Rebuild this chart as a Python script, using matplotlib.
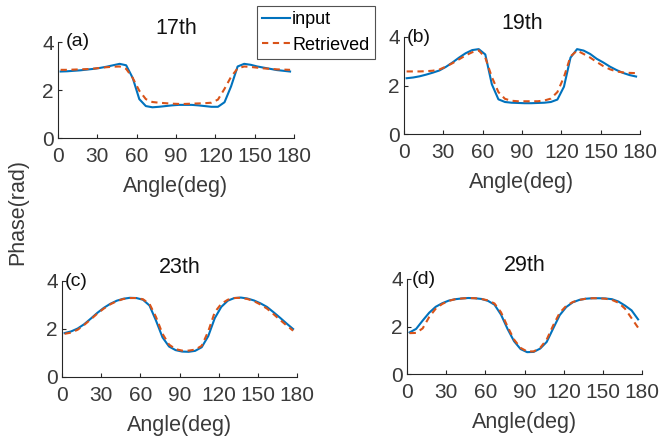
import matplotlib
matplotlib.use("Agg")
import matplotlib.pyplot as plt
import numpy as np

plt.rcParams['font.family'] = ['Liberation Sans', 'DejaVu Sans']

angles = [2, 7, 12, 17, 22, 27, 32, 37, 42, 47, 52, 57, 62, 67, 72, 77, 82, 87,
          92, 97, 102, 107, 112, 117, 122, 127, 132, 137, 142, 147, 152, 157,
          162, 167, 172, 177]

input_17 = [2.77, 2.78, 2.80, 2.82, 2.85, 2.88, 2.92, 2.97, 3.03, 3.09, 3.03, 2.50,
            1.62, 1.33, 1.28, 1.30, 1.33, 1.36, 1.38, 1.38, 1.38, 1.36, 1.33, 1.30,
            1.30, 1.49, 2.15, 2.98, 3.09, 3.05, 2.98, 2.93, 2.88, 2.83, 2.80, 2.77]
retr_17 = [2.84, 2.84, 2.85, 2.86, 2.87, 2.89, 2.92, 2.95, 2.97, 2.98, 2.88, 2.50,
           1.97, 1.62, 1.50, 1.47, 1.45, 1.43, 1.42, 1.42, 1.43, 1.44, 1.45, 1.47,
           1.60, 2.05, 2.55, 2.90, 2.98, 2.96, 2.93, 2.90, 2.88, 2.86, 2.85, 2.84]

input_19 = [2.30, 2.33, 2.38, 2.45, 2.53, 2.62, 2.77, 2.95, 3.15, 3.33, 3.46, 3.50,
            3.28, 2.05, 1.43, 1.32, 1.29, 1.28, 1.27, 1.27, 1.28, 1.29, 1.32, 1.42,
            1.95, 3.15, 3.50, 3.44, 3.30, 3.10, 2.95, 2.78, 2.64, 2.52, 2.43, 2.37]
retr_19 = [2.58, 2.58, 2.58, 2.59, 2.61, 2.66, 2.78, 2.92, 3.08, 3.24, 3.37, 3.45,
           3.15, 2.35, 1.73, 1.45, 1.37, 1.35, 1.35, 1.35, 1.35, 1.38, 1.46, 1.73,
           2.35, 3.20, 3.44, 3.30, 3.15, 2.97, 2.80, 2.67, 2.58, 2.54, 2.52, 2.51]

input_23 = [1.83, 1.90, 2.02, 2.20, 2.43, 2.67, 2.88, 3.05, 3.18, 3.26, 3.30, 3.29,
            3.22, 2.98, 2.35, 1.65, 1.27, 1.12, 1.06, 1.05, 1.09, 1.24, 1.70, 2.45,
            2.92, 3.18, 3.29, 3.31, 3.27, 3.19, 3.07, 2.92, 2.70, 2.47, 2.23, 2.00]
retr_23 = [1.80, 1.85, 1.97, 2.17, 2.40, 2.64, 2.85, 3.03, 3.16, 3.25, 3.29, 3.29,
           3.24, 3.05, 2.50, 1.80, 1.35, 1.16, 1.10, 1.10, 1.14, 1.30, 1.90, 2.70,
           3.05, 3.22, 3.29, 3.30, 3.25, 3.16, 3.02, 2.85, 2.62, 2.38, 2.15, 1.93]

input_29 = [1.75, 1.90, 2.25, 2.58, 2.83, 2.98, 3.09, 3.15, 3.18, 3.20, 3.19, 3.16,
            3.08, 2.92, 2.50, 1.90, 1.38, 1.05, 0.92, 0.93, 1.07, 1.35, 1.92, 2.48,
            2.82, 3.02, 3.12, 3.17, 3.19, 3.19, 3.18, 3.15, 3.05, 2.88, 2.68, 2.30]
retr_29 = [1.72, 1.73, 1.92, 2.40, 2.75, 2.95, 3.08, 3.15, 3.18, 3.20, 3.19, 3.16,
           3.10, 2.97, 2.60, 2.00, 1.45, 1.10, 0.95, 0.95, 1.10, 1.45, 2.05, 2.58,
           2.87, 3.03, 3.12, 3.17, 3.19, 3.19, 3.17, 3.12, 3.00, 2.75, 2.35, 1.95]

titles = ["17th", "19th", "23th", "29th"]
panel_labels = ["(a)", "(b)", "(c)", "(d)"]
inputs = [input_17, input_19, input_23, input_29]
retrieved = [retr_17, retr_19, retr_23, retr_29]
xticks = [0, 30, 60, 90, 120, 150, 180]
yticks = [0, 2, 4]

W, H = 659, 442
fig = plt.figure(figsize=(W / 100, H / 100), dpi=100)

# axes boxes in pixels: left, right, top, bottom
boxes = [(58, 294, 42, 138), (404, 640, 37, 134), (62, 297, 281, 377), (407, 642, 279, 374)]
label_x = [6, 2, 2, 4]

blue = '#0072BD'
orange = '#D95319'
axcol = '#262626'
txtcol = '#3a3a3a'

lines_for_legend = None
for i, (l, r, t, b) in enumerate(boxes):
    ax = fig.add_axes([l / W, 1 - b / H, (r - l) / W, (b - t) / H])
    hin, = ax.plot(angles, inputs[i], color=blue, lw=1.5, label='input')
    hre, = ax.plot(angles, retrieved[i], color=orange, lw=1.5, dashes=(3, 2.2), label='Retrieved')
    if lines_for_legend is None:
        lines_for_legend = (hin, hre)
    ax.set_xlim(0, 180)
    ax.set_ylim(0, 4)
    ax.set_xticks(xticks)
    ax.set_yticks(yticks)
    ax.spines['top'].set_visible(False)
    ax.spines['right'].set_visible(False)
    for s in ('left', 'bottom'):
        ax.spines[s].set_color(axcol)
        ax.spines[s].set_linewidth(0.8)
    ax.tick_params(direction='in', length=3, width=0.8, colors=axcol, labelcolor=txtcol,
                   labelsize=15)
    ax.tick_params(axis='x', pad=6.5)
    ax.tick_params(axis='y', pad=3)
    ax.set_xlabel('Angle(deg)', fontsize=15.5, color=txtcol, labelpad=7)
    ax.set_title(titles[i], fontsize=15.5, color='#111111', pad=6)
    ax.text(label_x[i], 4, panel_labels[i], fontsize=14, ha='left', va='center', color='#111111')

fig.text(18 / W, 1 - 212 / H, 'Phase(rad)', rotation=90, ha='center', va='center',
         fontsize=15.5, color=txtcol)

leg = fig.legend(lines_for_legend, ['input', 'Retrieved'], loc='upper left',
                 bbox_to_anchor=(257 / W, 1 - 6 / H), fontsize=13, frameon=True,
                 fancybox=False, handlelength=1.5, handletextpad=0.15,
                 borderpad=0.3, labelspacing=0.45, borderaxespad=0)
leg.get_frame().set_edgecolor('#262626')
leg.get_frame().set_linewidth(0.8)

fig.savefig('out.png', dpi=100)
